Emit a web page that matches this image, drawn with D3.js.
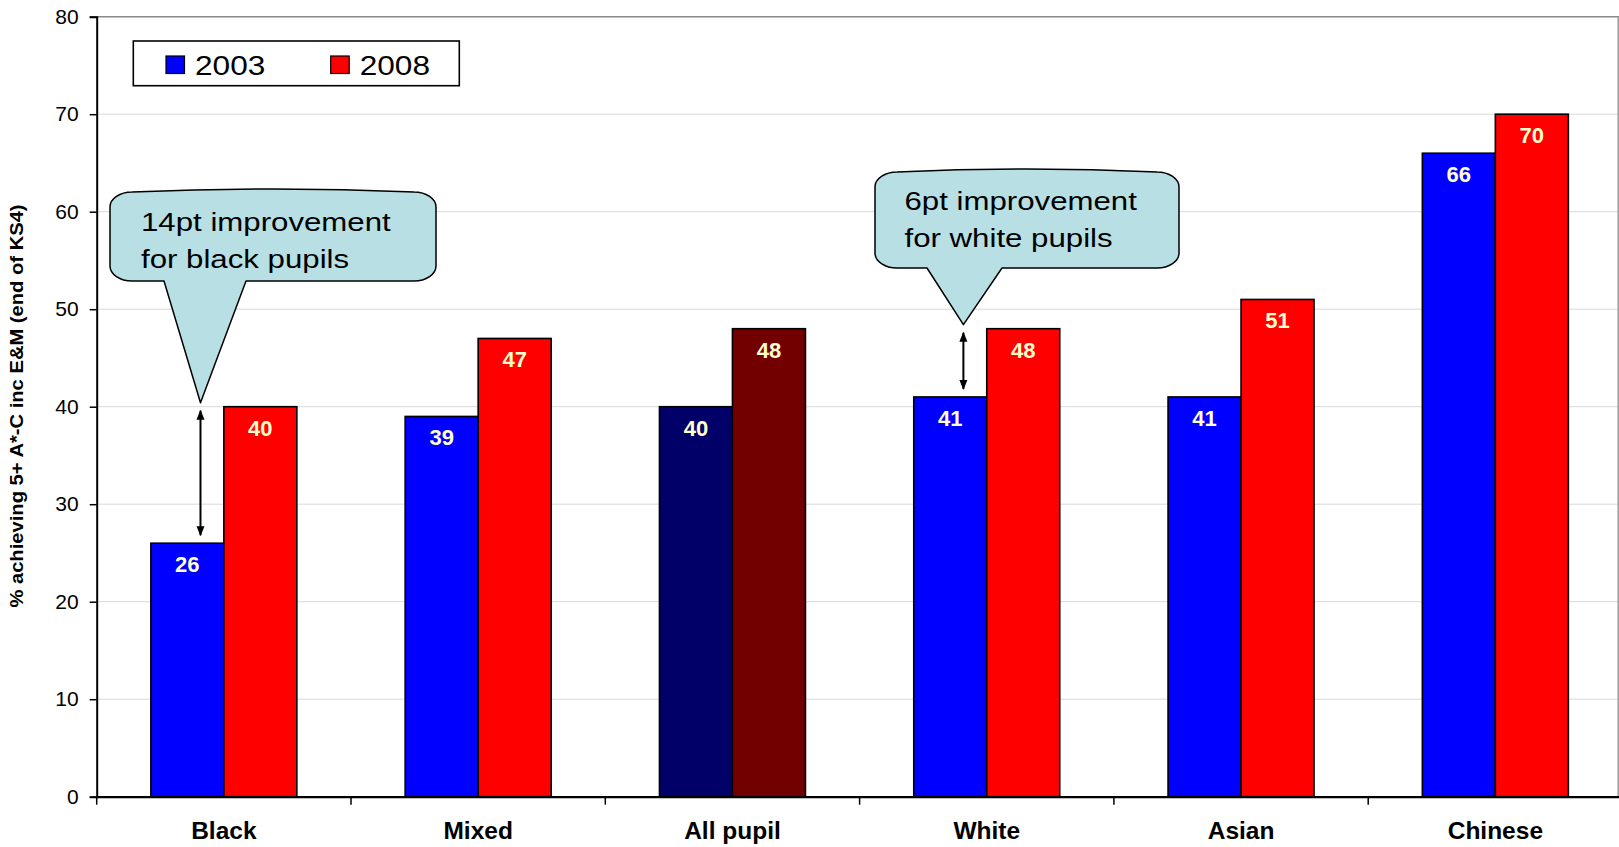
<!DOCTYPE html>
<html>
<head>
<meta charset="utf-8">
<script src="https://cdn.jsdelivr.net/npm/d3@7"></script>
<style>
  html, body { margin: 0; padding: 0; background: #fff; overflow: hidden; }
  svg { display: block; font-family: "Liberation Sans", Arial, sans-serif; }
</style>
</head>
<body>
<svg id="chart" width="1619" height="847"></svg>
<script>
// Attainment by ethnic group, 2003 vs 2008
const categories = ["Black", "Mixed", "All pupil", "White", "Asian", "Chinese"];
const years = ["2003", "2008"];
const values2003 = [26, 39, 40, 41, 41, 66];
const values2008 = [40, 47, 48, 48, 51, 70];
const yTicks = [0, 10, 20, 30, 40, 50, 60, 70, 80];
const yTitle = "% achieving 5+ A*-C inc E&M (end of KS4)";

// Callout notes: category, text lines
const notes = [
  { cat: "Black", lines: ["14pt improvement", "for black pupils"] },
  { cat: "White", lines: ["6pt improvement", "for white pupils"] }
];

const colors = {
  "2003": "#0000ff",
  "2008": "#ff0000",
  "2003-total": "#000068",
  "2008-total": "#730000"
};

const svg = d3.select("#chart");
const plotLeft = 96.7, plotRight = 1622.5, plotTop = 16.7, plotBottom = 796.7;

const x0 = d3.scaleBand().domain(categories).range([plotLeft, plotRight]).paddingInner(0).paddingOuter(0);
const x1 = d3.scaleBand().domain(years).range([0, x0.bandwidth()]).paddingInner(0).paddingOuter(0.742);
const y = d3.scaleLinear().domain([0, 80]).range([plotBottom, plotTop]);

// Helper: widen text horizontally to its typeset width
function stretch(sel, k) {
  sel.each(function () {
    const w = this.getComputedTextLength();
    d3.select(this).attr("textLength", w * k).attr("lengthAdjust", "spacingAndGlyphs");
  });
}

// Gridlines
svg.append("g")
  .selectAll("line")
  .data(yTicks.filter(t => t > 0 && t < 80))
  .join("line")
  .attr("x1", plotLeft).attr("x2", 1619)
  .attr("y1", d => y(d)).attr("y2", d => y(d))
  .attr("stroke", "#d9d9d9").attr("stroke-width", 1);

// Plot frame (top and right)
svg.append("line").attr("x1", plotLeft).attr("x2", 1619).attr("y1", y(80)).attr("y2", y(80))
  .attr("stroke", "#8a8a8a").attr("stroke-width", 1.5);
svg.append("line").attr("x1", 1618.2).attr("x2", 1618.2).attr("y1", y(80)).attr("y2", y(0))
  .attr("stroke", "#9a9a9a").attr("stroke-width", 1.5);

// Bars
const rows = categories.map((c, i) => ({ cat: c, vals: [values2003[i], values2008[i]] }));
const groups = svg.append("g").selectAll("g")
  .data(rows).join("g")
  .attr("transform", d => `translate(${x0(d.cat)},0)`);

const barData = d => years.map((yr, j) => ({ cat: d.cat, year: yr, value: d.vals[j] }));
groups.selectAll("rect")
  .data(barData).join("rect")
  .attr("x", d => x1(d.year))
  .attr("width", x1.bandwidth())
  .attr("y", d => y(d.value))
  .attr("height", d => y(0) - y(d.value))
  .attr("fill", d => d.cat === "All pupil" ? colors[d.year + "-total"] : colors[d.year])
  .attr("stroke", "#000").attr("stroke-width", 1.6);

groups.selectAll("text.val")
  .data(barData).join("text")
  .attr("class", "val")
  .attr("x", d => x1(d.year) + x1.bandwidth() / 2)
  .attr("y", d => y(d.value) + 29)
  .attr("text-anchor", "middle")
  .attr("font-size", 22).attr("font-weight", "bold")
  .attr("fill", "#ffffcc")
  .text(d => d.value);

// Y axis
const yAxis = svg.append("g")
  .attr("transform", `translate(${plotLeft},0)`)
  .call(d3.axisLeft(y).tickValues(yTicks).tickSize(7).tickPadding(11).tickFormat(d3.format("d")));
yAxis.select(".domain").attr("stroke", "#000").attr("stroke-width", 2);
yAxis.selectAll(".tick line").attr("stroke", "#000").attr("stroke-width", 1.5);
yAxis.selectAll(".tick text").attr("font-size", 21).attr("fill", "#000")
  .attr("font-family", "'Liberation Sans', Arial, sans-serif");

// X axis: category labels at band centres, tick marks on band boundaries
const xAxis = svg.append("g")
  .attr("transform", `translate(0,${plotBottom})`)
  .call(d3.axisBottom(x0).tickSize(0).tickPadding(25));
xAxis.select(".domain").attr("stroke", "#000").attr("stroke-width", 2.2);
xAxis.selectAll(".tick text").attr("font-size", 24.5).attr("font-weight", "bold").attr("fill", "#000")
  .attr("font-family", "'Liberation Sans', Arial, sans-serif");

svg.append("g").selectAll("line")
  .data(categories)
  .join("line")
  .attr("x1", d => x0(d)).attr("x2", d => x0(d))
  .attr("y1", plotBottom).attr("y2", plotBottom + 8)
  .attr("stroke", "#000").attr("stroke-width", 1.5);

// Y axis title
svg.append("text")
  .attr("transform", `translate(23,406) rotate(-90)`)
  .attr("text-anchor", "middle")
  .attr("font-size", 18.5).attr("font-weight", "bold")
  .text(yTitle)
  .call(stretch, 1.09);

// Legend
const legend = svg.append("g");
legend.append("rect").attr("x", 133.3).attr("y", 41).attr("width", 326).attr("height", 44.7)
  .attr("fill", "#fff").attr("stroke", "#000").attr("stroke-width", 1.6);
const legendX = [166, 330.7];
years.forEach((yr, j) => {
  legend.append("rect").attr("x", legendX[j]).attr("y", 56)
    .attr("width", 18.5).attr("height", 17.5)
    .attr("fill", colors[yr]).attr("stroke", "#000").attr("stroke-width", 1.2);
  legend.append("text").attr("x", legendX[j] + 29).attr("y", 74.5)
    .attr("font-size", 27).attr("fill", "#000")
    .text(yr)
    .call(stretch, 1.17);
});

// Improvement arrows and callouts
const defs = svg.append("defs");
["start", "end"].forEach(k => {
  defs.append("marker")
    .attr("id", "head-" + k)
    .attr("viewBox", "0 0 10 10")
    .attr("refX", 9).attr("refY", 5)
    .attr("markerWidth", 10).attr("markerHeight", 10)
    .attr("markerUnits", "userSpaceOnUse")
    .attr("orient", k === "start" ? "auto-start-reverse" : "auto")
    .append("path").attr("d", "M0,1 L10,5 L0,9 Z").attr("fill", "#000");
});

const boxes = {
  "Black": { x0: 110, x1: 436, y0: 192, y1: 281, pa: 164, pb: 246, tx: 141, ty: 230.5 },
  "White": { x0: 875, x1: 1179, y0: 172, y1: 268, pa: 927, pb: 1002, tx: 904.5, ty: 210 }
};

function calloutPath(b, tip) {
  const rx = 22, ry = 15, bulge = 3;
  const xc = (b.x0 + b.x1) / 2;
  return [
    `M${b.x0},${b.y0 + ry}`,
    `A${rx},${ry} 0 0 1 ${b.x0 + rx},${b.y0}`,
    `Q${xc},${b.y0 - 2 * bulge} ${b.x1 - rx},${b.y0}`,
    `A${rx},${ry} 0 0 1 ${b.x1},${b.y0 + ry}`,
    `L${b.x1},${b.y1 - ry}`,
    `A${rx},${ry} 0 0 1 ${b.x1 - rx},${b.y1}`,
    `L${b.pb},${b.y1}`,
    `L${tip[0]},${tip[1]}`,
    `L${b.pa},${b.y1}`,
    `L${b.x0 + rx},${b.y1}`,
    `A${rx},${ry} 0 0 1 ${b.x0},${b.y1 - ry}`,
    "Z"
  ].join(" ");
}

notes.forEach(n => {
  const i = categories.indexOf(n.cat);
  const v03 = values2003[i], v08 = values2008[i];
  const ax = x0(n.cat) + x1("2003") + x1.bandwidth() * 0.68;
  const b = boxes[n.cat];
  const tip = [ax, y(v08) - 4];

  svg.append("line")
    .attr("x1", ax).attr("x2", ax)
    .attr("y1", y(v08) + 4).attr("y2", y(v03) - 8)
    .attr("stroke", "#000").attr("stroke-width", 2)
    .attr("marker-start", "url(#head-start)")
    .attr("marker-end", "url(#head-end)");

  svg.append("path")
    .attr("d", calloutPath(b, tip))
    .attr("fill", "#b8dfe3").attr("stroke", "#000").attr("stroke-width", 1.5)
    .attr("stroke-linejoin", "round");

  n.lines.forEach((line, k) => {
    svg.append("text")
      .attr("x", b.tx).attr("y", b.ty + k * 37)
      .attr("font-size", 26).attr("fill", "#000")
      .text(line)
      .call(stretch, 1.2);
  });
});
</script>
</body>
</html>
